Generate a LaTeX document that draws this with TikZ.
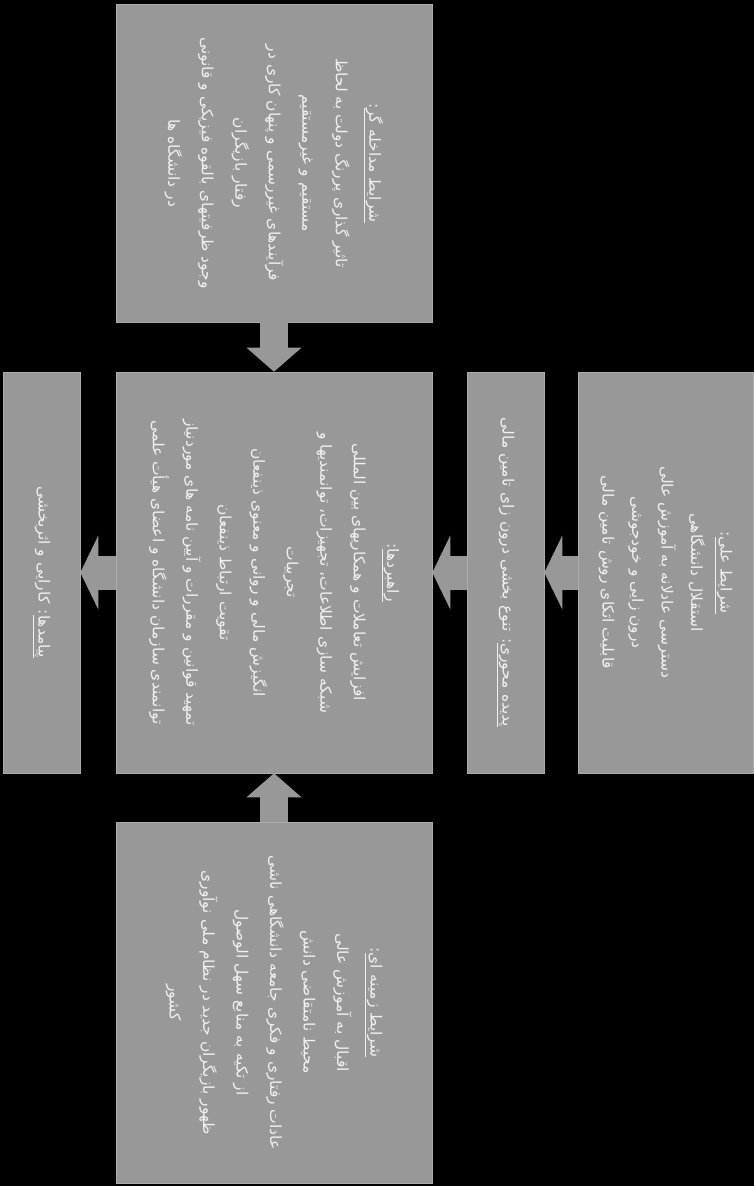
\documentclass[tikz,border=0pt]{standalone}
\usepackage{fontspec}
\newfontfamily\farsi[Script=Arabic]{DejaVu Sans}
\TeXXeTstate=1
\usetikzlibrary{arrows.meta}
\definecolor{boxgray}{RGB}{152,152,152}
\definecolor{boxedge}{RGB}{172,172,172}
\definecolor{boxtext}{RGB}{240,240,240}
\newcommand{\rl}[1]{\beginR#1\endR}
\newcommand{\titr}[1]{\underline{\rl{#1}}}

\begin{document}
\begin{tikzpicture}[x=1pt,y=1pt,yscale=-1,xscale=1,
	box/.style={rotate=-90,fill=boxgray,draw=boxedge,line width=0.6pt,text=boxtext,align=center,inner sep=3pt,font=\farsi\fontsize{15.5}{33.5}\selectfont},
	flowv/.style={draw=boxgray,line width=28pt,-{Triangle[length=24pt,width=55pt,line width=0pt]}},
	flowh/.style={draw=boxgray,line width=34pt,-{Triangle[length=18pt,width=74pt,line width=0pt]}}]
		
		%Shape: Background
		\fill[black] (0,0) rectangle (754,1186);
		
		%Shape: Rectangle [causal conditions]
		\node[box,minimum width=401pt,minimum height=175pt,font=\farsi\fontsize{15.5}{29.5}\selectfont] (cause) at (665.5,572.5) {\rl{\titr{شرایط علی}:}\\ \rl{استقلال دانشگاهی}\\ \rl{دسترسی عادلانه به آموزش عالی}\\ \rl{درون زایی و خودجوشی}\\ \rl{قابلیت اتکای روش تامین مالی}};
		%Shape: Rectangle [core phenomenon]
		\node[box,minimum width=401pt,minimum height=77pt] (phen) at (505.5,572.5) {\rl{\titr{پدیده محوری}: تنوع بخشی درون زای تامین مالی}};
		%Shape: Rectangle [strategies]
		\node[box,minimum width=401pt,minimum height=316pt] (strat) at (274,572.5) {\rl{\titr{راهبردها}:}\\ \rl{افزایش تعاملات و همکاریهای بین المللی}\\ \rl{شبکه سازی اطلاعات، تجهیزات، توانمندیها و}\\ \rl{تجربیات}\\ \rl{انگیزش مالی و روانی و معنوی ذینفعان}\\ \rl{تقویت ارتباط ذینفعان}\\ \rl{تمهید قوانین و مقررات و آیین نامه های موردنیاز}\\ \rl{توانمندی سازمان دانشگاه و اعضای هیأت علمی}};
		%Shape: Rectangle [consequences]
		\node[box,minimum width=401pt,minimum height=77pt] (outcome) at (41.5,572.5) {\rl{\titr{پیامدها}: کارایی و اثربخشی}};
		%Shape: Rectangle [intervening conditions]
		\node[box,minimum width=318pt,minimum height=316pt] (interv) at (274,163) {\rl{\titr{شرایط مداخله گر}:}\\ \rl{تاثیر گذاری پررنگ دولت به لحاظ}\\ \rl{مستقیم و غیرمستقیم}\\ \rl{فرآیندهای غیررسمی و پنهان کاری در}\\ \rl{رفتار بازیگران}\\ \rl{وجود ظرفیتهای بالقوه فیزیکی و قانونی}\\ \rl{در دانشگاه ها}};
		%Shape: Rectangle [contextual conditions]
		\node[box,minimum width=361pt,minimum height=316pt] (context) at (274,1002.5) {\rl{\titr{شرایط زمینه ای}:}\\ \rl{اقبال به آموزش عالی}\\ \rl{محیط نامتقاضی دانش}\\ \rl{عادات رفتاری و فکری جامعه دانشگاهی ناشی}\\ \rl{از تکیه به منابع سهل الوصول}\\ \rl{ظهور بازیگران جدید در نظام ملی نوآوری}\\ \rl{کشور}};
		
		%Block Arrows
		\draw[flowv] (interv.east) -- (strat.west);
		\draw[flowv] (context.west) -- (strat.east);
		\draw[flowh] (cause.south) -- (phen.north);
		\draw[flowh] (phen.south) -- (strat.north);
		\draw[flowh] (strat.south) -- (outcome.north);
		
\end{tikzpicture}
\end{document}
